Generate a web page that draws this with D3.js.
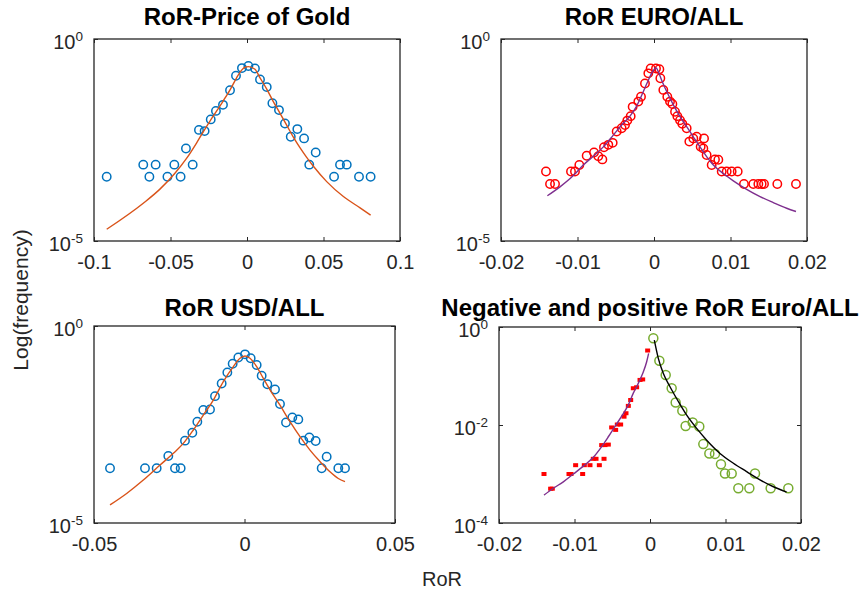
<!DOCTYPE html>
<html>
<head>
<meta charset="utf-8">
<script src="https://cdn.jsdelivr.net/npm/d3@7"></script>
<style>
  html, body { margin: 0; padding: 0; background: #ffffff; }
  svg { display: block; }
</style>
</head>
<body>
<svg id="fig" width="864" height="591"></svg>
<script>
// ---------- Rate-of-return distributions (frequencies stored as log10) ----------

// Gold: empirical points
const goldRoR = [-0.0917,-0.0678,-0.0638,-0.0597,-0.052,-0.0475,-0.0434,-0.0399,-0.0355,-0.0314,-0.0277,-0.0237,-0.0203,-0.0157,-0.0111,-0.0072,-0.0033,0.0009,0.0052,0.0085,0.0129,0.0166,0.0209,0.0248,0.0286,0.0329,0.0373,0.0407,0.0449,0.0569,0.0608,0.0652,0.0732,0.0808];
const goldLogFreq = [-3.41,-3.11,-3.41,-3.11,-3.41,-3.11,-3.41,-2.71,-3.11,-2.25,-2.28,-1.99,-1.78,-1.63,-1.27,-0.91,-0.72,-0.67,-0.73,-1.00,-1.19,-1.59,-1.76,-2.09,-2.42,-2.23,-2.46,-3.11,-2.81,-3.41,-3.11,-3.11,-3.41,-3.41];
// Gold: fitted curve
const goldFitRoR = [-0.0917,-0.0678,-0.0569,-0.0471,-0.0394,-0.0329,-0.0285,-0.0242,-0.0198,-0.0155,-0.0111,-0.0068,-0.0035,-0.0013,0.0009,0.0052,0.0085,0.0129,0.0172,0.0216,0.0259,0.0303,0.0346,0.0390,0.0434,0.0521,0.0630,0.0739,0.0808];
const goldFitLogFreq = [-4.71,-4.065,-3.716,-3.324,-2.95,-2.57,-2.29,-2.03,-1.78,-1.53,-1.26,-0.96,-0.77,-0.70,-0.685,-0.75,-0.96,-1.24,-1.55,-1.84,-2.13,-2.43,-2.69,-2.93,-3.15,-3.53,-3.90,-4.18,-4.36];

// EURO/ALL: empirical points
const euroRoR = [-0.01412,-0.01359,-0.01294,-0.01085,-0.01033,-0.00976,-0.0088,-0.00784,-0.00728,-0.00675,-0.00654,-0.00597,-0.0054,-0.00488,-0.00423,-0.00379,-0.00349,-0.00305,-0.00279,-0.00205,-0.0017,-0.00118,-0.00074,-0.00044,0.00026,0.0007,0.00083,0.00122,0.00174,0.00209,0.0024,0.00275,0.00305,0.0034,0.0037,0.00427,0.00462,0.00514,0.00558,0.0061,0.00645,0.00654,0.00688,0.00754,0.00797,0.00841,0.00885,0.0095,0.01015,0.01094,0.01176,0.01298,0.01364,0.01407,0.01438,0.01612,0.01856];
const euroLogFreq = [-3.28,-3.59,-3.59,-3.28,-3.28,-3.12,-2.89,-2.81,-2.90,-2.98,-2.68,-2.62,-2.57,-2.29,-2.21,-2.13,-2.02,-1.91,-1.68,-1.55,-1.43,-1.10,-0.85,-0.73,-0.73,-0.75,-0.97,-1.26,-1.43,-1.55,-1.61,-1.80,-1.91,-2.01,-2.10,-2.21,-2.54,-2.46,-2.42,-2.67,-2.71,-2.46,-2.87,-3.12,-2.98,-2.99,-3.28,-3.28,-3.28,-3.28,-3.59,-3.59,-3.59,-3.59,-3.59,-3.59,-3.59];
// EURO/ALL: fitted curve
const euroFitRoR = [-0.01394,-0.01229,-0.01054,-0.00924,-0.00793,-0.00662,-0.00532,-0.00423,-0.00314,-0.00227,-0.00139,-0.00074,-0.00009,0.00026,0.00057,0.001,0.00166,0.00253,0.0034,0.00427,0.00514,0.00601,0.00688,0.00776,0.00906,0.01037,0.01211,0.01386,0.0156,0.01734,0.01856];
const euroFitLogFreq = [-3.88,-3.66,-3.38,-3.12,-2.90,-2.67,-2.38,-2.13,-1.91,-1.66,-1.30,-1.02,-0.78,-0.71,-0.81,-1.02,-1.30,-1.63,-1.92,-2.17,-2.42,-2.67,-2.91,-3.12,-3.33,-3.51,-3.72,-3.90,-4.05,-4.19,-4.27];

// USD/ALL: empirical points
const usdRoR = [-0.04468,-0.03306,-0.02918,-0.02531,-0.02309,-0.02121,-0.01977,-0.01733,-0.01567,-0.01368,-0.01146,-0.0098,-0.00759,-0.0057,-0.00393,-0.00205,0.00017,0.00205,0.00404,0.0057,0.00759,0.01013,0.01179,0.01379,0.01589,0.01788,0.01955,0.02154,0.02364,0.02564,0.0273,0.03117,0.03339];
const usdLogFreq = [-3.61,-3.61,-3.61,-3.30,-3.61,-3.61,-2.91,-2.71,-2.43,-2.13,-2.12,-1.78,-1.46,-1.18,-0.96,-0.80,-0.72,-0.82,-0.99,-1.26,-1.48,-1.61,-1.98,-2.45,-2.32,-2.37,-2.91,-2.83,-2.92,-3.61,-3.32,-3.61,-3.61];
// USD/ALL: fitted curve
const usdFitRoR = [-0.04468,-0.03915,-0.03361,-0.02807,-0.02364,-0.02032,-0.017,-0.01368,-0.01036,-0.00703,-0.00371,-0.0015,0.00017,0.00183,0.00404,0.00626,0.00847,0.01179,0.01512,0.01844,0.02176,0.02508,0.0284,0.03117,0.03339];
const usdFitLogFreq = [-4.54,-4.25,-3.91,-3.53,-3.23,-2.98,-2.64,-2.26,-1.88,-1.41,-1.03,-0.82,-0.76,-0.82,-1.03,-1.33,-1.62,-2.01,-2.43,-2.81,-3.15,-3.44,-3.70,-3.87,-3.95];

// Euro/ALL split: negative returns
const negRoR = [-0.01404,-0.01316,-0.01294,-0.01073,-0.01046,-0.00985,-0.00892,-0.0087,-0.00795,-0.00751,-0.00715,-0.00671,-0.00609,-0.0064,-0.00596,-0.00552,-0.00508,-0.00455,-0.00433,-0.00389,-0.00344,-0.00318,-0.00287,-0.00256,-0.00221,-0.00177,-0.00132,-0.00097,-0.00031];
const negLogFreq = [-3.0,-3.3,-3.3,-3.0,-3.0,-2.82,-3.0,-2.82,-2.82,-2.69,-2.69,-2.82,-2.69,-2.41,-2.41,-2.40,-2.05,-2.10,-1.99,-1.99,-1.83,-1.76,-1.61,-1.49,-1.25,-1.23,-1.08,-1.07,-0.48];
const negFitRoR = [-0.01404,-0.0128,-0.01148,-0.01015,-0.00883,-0.00751,-0.0064,-0.00552,-0.00464,-0.00375,-0.00287,-0.00221,-0.00155,-0.00097,-0.00044,-0.00018];
const negFitLogFreq = [-3.43,-3.29,-3.16,-3.0,-2.84,-2.66,-2.44,-2.24,-2.03,-1.82,-1.59,-1.35,-1.15,-0.95,-0.71,-0.54];
// Euro/ALL split: positive returns
const posRoR = [0.00044,0.00124,0.00208,0.00287,0.0034,0.00428,0.00472,0.00565,0.00653,0.00706,0.00786,0.00861,0.0094,0.00993,0.01082,0.0117,0.01316,0.01391,0.01598,0.01832];
const posLogFreq = [-0.23,-0.69,-0.98,-1.25,-1.54,-1.71,-2.02,-1.95,-2.03,-2.39,-2.58,-2.59,-2.80,-2.99,-2.99,-3.29,-3.29,-2.99,-3.29,-3.29];
const posFitRoR = [0.00057,0.0011,0.00177,0.00265,0.00375,0.00486,0.00618,0.00751,0.00927,0.01104,0.0128,0.01457,0.01634,0.0181];
const posFitLogFreq = [-0.27,-0.64,-0.95,-1.22,-1.52,-1.80,-2.07,-2.31,-2.58,-2.78,-2.95,-3.12,-3.26,-3.37];

// Tick values and labels
const xTicksGold = [-0.1, -0.05, 0, 0.05, 0.1];
const xLabelsGold = ["-0.1", "-0.05", "0", "0.05", "0.1"];
const xTicksEuro = [-0.02, -0.01, 0, 0.01, 0.02];
const xLabelsEuro = ["-0.02", "-0.01", "0", "0.01", "0.02"];
const xTicksUsd = [-0.05, 0, 0.05];
const xLabelsUsd = ["-0.05", "0", "0.05"];
const yTickExp5 = [0, -5];
const yTickExp4 = [0, -2, -4];

const titles = ["RoR-Price of Gold", "RoR EURO/ALL", "RoR USD/ALL", "Negative and positive RoR Euro/ALL"];
const xAxisTitle = "RoR";
const yAxisTitle = "Log(frequency)";

// ---------- drawing ----------
const FONT = '"Liberation Sans", Arial, Helvetica, sans-serif';
const AXIS = "#262626";
const C_BLUE = "#0072BD", C_ORANGE = "#D95319", C_RED = "#FF0000",
      C_PURPLE = "#7E2F8E", C_GREEN = "#77AC30", C_BLACK = "#000000";

const svg = d3.select("#fig");
const zip = (xs, ls) => xs.map((x, i) => ({ x: x, f: Math.pow(10, ls[i]) }));

const panels = [
  { box: [94, 400, 39, 241], xDom: [-0.1, 0.1], xTicks: xTicksGold, xLabels: xLabelsGold,
    yExp: [-5, 0], yTicks: yTickExp5, title: titles[0], titleY: 25,
    layers: [
      { type: "circle", data: zip(goldRoR, goldLogFreq), color: C_BLUE },
      { type: "line", data: zip(goldFitRoR, goldFitLogFreq), color: C_ORANGE }
    ] },
  { box: [501, 807, 39, 241], xDom: [-0.02, 0.02], xTicks: xTicksEuro, xLabels: xLabelsEuro,
    yExp: [-5, 0], yTicks: yTickExp5, title: titles[1], titleY: 25,
    layers: [
      { type: "circle", data: zip(euroRoR, euroLogFreq), color: C_RED },
      { type: "line", data: zip(euroFitRoR, euroFitLogFreq), color: C_PURPLE }
    ] },
  { box: [94, 395, 326, 523], xDom: [-0.05, 0.05], xTicks: xTicksUsd, xLabels: xLabelsUsd,
    yExp: [-5, 0], yTicks: yTickExp5, title: titles[2], titleY: 316,
    layers: [
      { type: "circle", data: zip(usdRoR, usdLogFreq), color: C_BLUE },
      { type: "line", data: zip(usdFitRoR, usdFitLogFreq), color: C_ORANGE }
    ] },
  { box: [499, 801, 327, 523], xDom: [-0.02, 0.02], xTicks: xTicksEuro, xLabels: xLabelsEuro,
    yExp: [-4, 0], yTicks: yTickExp4, title: titles[3], titleY: 316,
    layers: [
      { type: "square", data: zip(negRoR, negLogFreq), color: C_RED },
      { type: "line", data: zip(negFitRoR, negFitLogFreq), color: C_PURPLE },
      { type: "circle", data: zip(posRoR, posLogFreq), color: C_GREEN, r: 4.5 },
      { type: "line", data: zip(posFitRoR, posFitLogFreq), color: C_BLACK }
    ] }
];

panels.forEach(p => {
  const [L, R, T, B] = p.box;
  const x = d3.scaleLinear().domain(p.xDom).range([L, R]);
  const y = d3.scaleLog().domain([Math.pow(10, p.yExp[0]), Math.pow(10, p.yExp[1])]).range([B, T]);
  const g = svg.append("g");

  // plot box
  g.append("rect").attr("x", L).attr("y", T).attr("width", R - L).attr("height", B - T)
    .attr("fill", "none").attr("stroke", AXIS).attr("stroke-width", 1.3);

  // x axis (inward ticks) bottom with labels, top without
  const xb = g.append("g").attr("transform", `translate(0,${B})`)
    .call(d3.axisBottom(x).tickValues(p.xTicks).tickSize(-4).tickPadding(14)
      .tickFormat((d, i) => p.xLabels[i]));
  const xt = g.append("g").attr("transform", `translate(0,${T})`)
    .call(d3.axisTop(x).tickValues(p.xTicks).tickSize(-4).tickFormat(() => ""));
  [xb, xt].forEach(a => {
    a.select(".domain").remove();
    a.selectAll("line").attr("stroke", AXIS).attr("stroke-width", 1);
  });
  xb.selectAll("text").attr("font-family", FONT).attr("font-size", 20).attr("fill", AXIS);

  // y axis (log, decade ticks) left with superscript labels, right without
  const yVals = p.yTicks.map(e => Math.pow(10, e));
  const yl = g.append("g").attr("transform", `translate(${L},0)`)
    .call(d3.axisLeft(y).tickValues(yVals).tickSize(-4).tickFormat(() => ""));
  const yr = g.append("g").attr("transform", `translate(${R},0)`)
    .call(d3.axisRight(y).tickValues(yVals).tickSize(-4).tickFormat(() => ""));
  [yl, yr].forEach(a => {
    a.select(".domain").remove();
    a.selectAll("line").attr("stroke", AXIS).attr("stroke-width", 1);
  });
  yl.selectAll(".tick").each(function (d, i) {
    const t = d3.select(this).select("text")
      .attr("x", -11).attr("y", 9).attr("dy", null)
      .attr("text-anchor", "end").attr("font-family", FONT).attr("fill", AXIS);
    t.text(null);
    t.append("tspan").attr("font-size", 20).text("10");
    t.append("tspan").attr("font-size", 13.5).attr("dy", -7.5).text(String(p.yTicks[i]));
  });

  // title
  g.append("text").attr("x", (L + R) / 2).attr("y", p.titleY).attr("text-anchor", "middle")
    .attr("font-family", FONT).attr("font-weight", "bold").attr("font-size", 24)
    .attr("fill", "#000").text(p.title);

  // data layers
  p.layers.forEach(layer => {
    if (layer.type === "line") {
      const line = d3.line().x(d => x(d.x)).y(d => y(d.f)).curve(d3.curveMonotoneX);
      g.append("path").datum(layer.data).attr("d", line)
        .attr("fill", "none").attr("stroke", layer.color).attr("stroke-width", 1.4);
    } else if (layer.type === "circle") {
      g.append("g").selectAll("circle").data(layer.data).join("circle")
        .attr("cx", d => x(d.x)).attr("cy", d => y(d.f)).attr("r", layer.r || 4.2)
        .attr("fill", "none").attr("stroke", layer.color).attr("stroke-width", 1.5);
    } else if (layer.type === "square") {
      g.append("g").selectAll("rect").data(layer.data).join("rect")
        .attr("x", d => x(d.x) - 2.5).attr("y", d => y(d.f) - 2)
        .attr("width", 5).attr("height", 4).attr("fill", layer.color);
    }
  });
});

// shared axis titles
svg.append("text").attr("transform", "translate(22,300) rotate(-90)")
  .attr("text-anchor", "middle").attr("dominant-baseline", "middle")
  .attr("font-family", FONT).attr("font-size", 21).attr("fill", AXIS).text(yAxisTitle);
svg.append("text").attr("x", 442).attr("y", 586).attr("text-anchor", "middle")
  .attr("font-family", FONT).attr("font-size", 20).attr("fill", AXIS).text(xAxisTitle);
</script>
</body>
</html>
